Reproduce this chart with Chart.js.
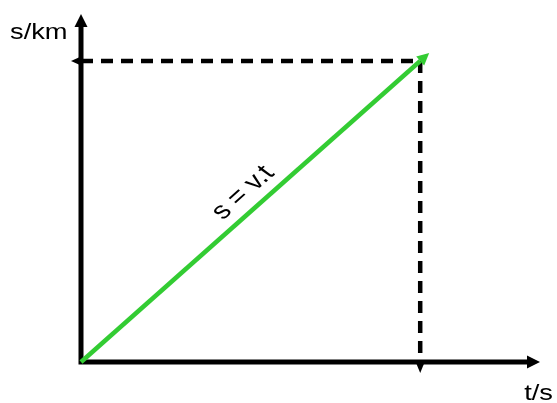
<!DOCTYPE html>
<html>
<head>
<meta charset="utf-8">
<script src="https://cdn.jsdelivr.net/npm/chart.js@4"></script>
<style>html,body{margin:0;padding:0;background:#fff}</style>
</head>
<body>
<canvas id="motionChart" width="557" height="403"></canvas>
<script>
// axis ranges (no ticks shown, just a 0..10 grid)
const tRange = [0, 10]
const sRange = [0, 10]

// s = v.t line, from the origin to the marked point
const lineT = [0, 7.39]
const lineS = [0, 8.65]

const markT = 7.39
const markS = 8.65

const axisLabels = ['t/s', 's/km']
const lineLabel = 's = v.t'

const green = '#33cc33'
const stretch = 1.24   // the picture's text is drawn wide

function arrowHead(ctx, x, y, dx, dy, len, half, color) {
    const n = Math.hypot(dx, dy)
    const ux = dx / n, uy = dy / n
    ctx.save()
    ctx.fillStyle = color
    ctx.beginPath()
    ctx.moveTo(x + ux * len, y + uy * len)
    ctx.lineTo(x - uy * half, y + ux * half)
    ctx.lineTo(x + uy * half, y - ux * half)
    ctx.closePath()
    ctx.fill()
    ctx.restore()
}

function wideText(ctx, text, x, y, align, angle, size) {
    ctx.save()
    ctx.translate(x, y)
    ctx.scale(stretch, 1)
    if (angle) ctx.rotate(angle)
    ctx.font = (size || 22) + 'px "Liberation Sans", Arial, sans-serif'
    ctx.fillStyle = '#000'
    ctx.textAlign = align
    ctx.textBaseline = angle ? 'middle' : 'alphabetic'
    ctx.fillText(text, 0, 0)
    ctx.restore()
}

const sketchPlugin = {
    id: 'sketch',
    beforeDatasetsDraw(chart) {
        const ctx = chart.ctx
        const xs = chart.scales.x, ys = chart.scales.y
        const x0 = xs.getPixelForValue(tRange[0])
        const y0 = ys.getPixelForValue(sRange[0])
        const xEnd = xs.getPixelForValue(tRange[1])
        const yEnd = ys.getPixelForValue(sRange[1])
        ctx.save()
        ctx.strokeStyle = '#000'
        ctx.lineWidth = 5
        ctx.beginPath()
        ctx.moveTo(x0 - 2.5, y0)
        ctx.lineTo(xEnd - 12, y0)
        ctx.moveTo(x0, y0 + 2.5)
        ctx.lineTo(x0, yEnd + 12)
        ctx.stroke()
        ctx.restore()
        arrowHead(ctx, xEnd - 13, y0, 1, 0, 13, 6.5, '#000')
        arrowHead(ctx, x0, yEnd + 13, 0, -1, 13, 6.5, '#000')
    },
    afterDatasetsDraw(chart) {
        const ctx = chart.ctx
        const xs = chart.scales.x, ys = chart.scales.y
        const px = xs.getPixelForValue(markT)
        const py = ys.getPixelForValue(markS)
        const ox = xs.getPixelForValue(lineT[0])
        const oy = ys.getPixelForValue(lineS[0])
        const lx = xs.getPixelForValue(lineT[1])
        const ly = ys.getPixelForValue(lineS[1])

        // guide arrows: left at the s axis, down at the t axis
        arrowHead(ctx, ox, py, -1, 0, 10, 4.5, '#000')
        arrowHead(ctx, px, oy, 0, 1, 11, 4.5, '#000')
        // green arrow tip
        arrowHead(ctx, lx, ly, lx - ox, ly - oy, 12, 6, green)

        // labels
        wideText(ctx, axisLabels[1], 10, 39, 'left')
        wideText(ctx, axisLabels[0], 553, 400, 'right')

        // line label, sitting just above the green line
        const angle = Math.atan2((ly - oy), (lx - ox) / stretch)
        const len = Math.hypot(lx - ox, ly - oy)
        const nx = (ly - oy) / len, ny = -(lx - ox) / len
        const mx = ox + (lx - ox) * 0.515 + nx * 19
        const my = oy + (ly - oy) * 0.515 + ny * 19
        wideText(ctx, lineLabel, mx, my, 'center', angle, 24)
    }
}

const dataLine = {
    datasets: [
        {
            data: lineT.map((t, i) => ({ x: t, y: lineS[i] })),
            borderColor: green,
            borderWidth: 4.5,
            clip: false
        },
        {
            data: [{ x: tRange[0], y: markS }, { x: markT, y: markS }],
            borderColor: '#000',
            borderWidth: 4.5,
            borderDash: [12, 8],
            clip: false
        },
        {
            data: [{ x: markT, y: markS }, { x: markT, y: sRange[0] }],
            borderColor: '#000',
            borderWidth: 4.5,
            borderDash: [12, 8],
            clip: false
        }
    ]
}

const config = {
    type: 'scatter',
    data: dataLine,
    options: {
        responsive: false,
        animation: false,
        devicePixelRatio: 1,
        showLine: true,
        layout: { padding: { left: 81, right: 17, top: 14, bottom: 41 } },
        elements: {
            point: { radius: 0, hoverRadius: 0 },
            line: { tension: 0, borderCapStyle: 'butt' }
        },
        scales: {
            x: { type: 'linear', min: tRange[0], max: tRange[1], display: false },
            y: { type: 'linear', min: sRange[0], max: sRange[1], display: false }
        },
        plugins: {
            legend: { display: false },
            tooltip: { enabled: false }
        }
    },
    plugins: [sketchPlugin]
}

const motionChart = new Chart(document.getElementById('motionChart'), config)
</script>
</body>
</html>
